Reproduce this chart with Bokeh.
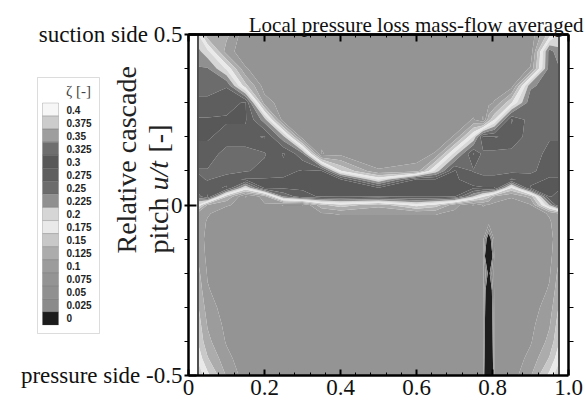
import numpy as np
from bokeh.plotting import figure
from bokeh.models import Range1d, FixedTicker, LinearAxis, Label, BoxAnnotation
from bokeh.embed import file_html
from bokeh.resources import INLINE

# ---------------- data ----------------
# measurement grid: relative position x, pitch u/t (rows listed top -> bottom)
grid_x = [0.025, 0.05, 0.1, 0.15, 0.2, 0.25, 0.3, 0.35, 0.4, 0.5, 0.6,
          0.65, 0.7, 0.75, 0.775, 0.79, 0.805, 0.85, 0.9, 0.95, 0.975]
grid_y = [0.5, 0.45, 0.4, 0.35, 0.3, 0.25, 0.2, 0.15, 0.1, 0.075, 0.05,
          0.025, 0.0, -0.025, -0.05, -0.1, -0.15, -0.2, -0.25, -0.3,
          -0.35, -0.4, -0.45, -0.5]
# local pressure loss zeta, one row per grid_y entry, one value per grid_x entry
zeta = [
    [0.19, 0.12, 0.12, 0.07, 0.07, 0.07, 0.07, 0.07, 0.07, 0.07, 0.07, 0.07, 0.07, 0.07, 0.07, 0.07, 0.07, 0.07, 0.07, 0.15, 0.19],
    [0.22, 0.196, 0.10, 0.07, 0.07, 0.07, 0.07, 0.07, 0.07, 0.07, 0.07, 0.07, 0.07, 0.07, 0.07, 0.07, 0.07, 0.07, 0.07, 0.25, 0.22],
    [0.24, 0.24, 0.183, 0.09, 0.07, 0.07, 0.07, 0.07, 0.07, 0.07, 0.07, 0.07, 0.07, 0.07, 0.07, 0.07, 0.07, 0.07, 0.09, 0.25, 0.24],
    [0.25, 0.25, 0.26, 0.146, 0.075, 0.07, 0.07, 0.07, 0.07, 0.07, 0.07, 0.07, 0.07, 0.07, 0.07, 0.07, 0.07, 0.075, 0.232, 0.25, 0.25],
    [0.27, 0.27, 0.28, 0.29, 0.10, 0.075, 0.07, 0.07, 0.07, 0.07, 0.07, 0.07, 0.07, 0.07, 0.07, 0.08, 0.09, 0.16, 0.255, 0.25, 0.25],
    [0.29, 0.29, 0.29, 0.29, 0.225, 0.07, 0.075, 0.07, 0.07, 0.07, 0.07, 0.07, 0.07, 0.09, 0.06, 0.126, 0.162, 0.29, 0.25, 0.25, 0.25],
    [0.29, 0.29, 0.28, 0.28, 0.29, 0.22, 0.07, 0.07, 0.07, 0.07, 0.07, 0.07, 0.09, 0.19, 0.29, 0.29, 0.29, 0.28, 0.25, 0.26, 0.26],
    [0.28, 0.28, 0.25, 0.25, 0.26, 0.29, 0.245, 0.06, 0.08, 0.07, 0.075, 0.09, 0.196, 0.29, 0.255, 0.255, 0.255, 0.255, 0.25, 0.27, 0.27],
    [0.26, 0.26, 0.25, 0.26, 0.27, 0.28, 0.29, 0.29, 0.165, 0.09, 0.098, 0.196, 0.29, 0.26, 0.255, 0.255, 0.255, 0.255, 0.255, 0.28, 0.28],
    [0.27, 0.26, 0.28, 0.29, 0.29, 0.29, 0.29, 0.29, 0.29, 0.185, 0.29, 0.29, 0.29, 0.28, 0.27, 0.27, 0.27, 0.29, 0.28, 0.29, 0.29],
    [0.28, 0.28, 0.29, 0.185, 0.29, 0.29, 0.29, 0.29, 0.29, 0.29, 0.29, 0.29, 0.29, 0.29, 0.29, 0.29, 0.29, 0.16, 0.29, 0.29, 0.29],
    [0.25, 0.29, 0.139, 0.06, 0.098, 0.24, 0.281, 0.29, 0.29, 0.29, 0.29, 0.29, 0.29, 0.211, 0.165, 0.146, 0.11, 0.09, 0.121, 0.29, 0.28],
    [0.187, 0.11, 0.09, 0.08, 0.085, 0.06, 0.06, 0.13, 0.153, 0.121, 0.175, 0.153, 0.098, 0.06, 0.09, 0.085, 0.08, 0.075, 0.085, 0.215, 0.29],
    [0.10, 0.09, 0.075, 0.075, 0.075, 0.08, 0.08, 0.085, 0.09, 0.09, 0.09, 0.09, 0.08, 0.08, 0.075, 0.075, 0.075, 0.07, 0.075, 0.09, 0.11],
    [0.10, 0.085, 0.07, 0.07, 0.07, 0.075, 0.075, 0.075, 0.075, 0.075, 0.075, 0.075, 0.07, 0.075, 0.07, 0.075, 0.07, 0.07, 0.07, 0.085, 0.10],
    [0.10, 0.08, 0.07, 0.07, 0.07, 0.07, 0.07, 0.07, 0.07, 0.07, 0.07, 0.07, 0.07, 0.07, 0.07, -0.02, 0.07, 0.07, 0.07, 0.08, 0.10],
    [0.11, 0.08, 0.07, 0.07, 0.07, 0.07, 0.07, 0.07, 0.07, 0.07, 0.07, 0.07, 0.07, 0.07, 0.07, -0.10, 0.07, 0.07, 0.07, 0.08, 0.11],
    [0.12, 0.085, 0.07, 0.07, 0.07, 0.07, 0.07, 0.07, 0.07, 0.07, 0.07, 0.07, 0.07, 0.07, 0.07, 0.0, 0.07, 0.07, 0.07, 0.085, 0.12],
    [0.13, 0.09, 0.072, 0.07, 0.07, 0.07, 0.07, 0.07, 0.07, 0.07, 0.07, 0.07, 0.07, 0.07, 0.07, -0.06, 0.07, 0.07, 0.072, 0.09, 0.13],
    [0.14, 0.10, 0.075, 0.07, 0.07, 0.07, 0.07, 0.07, 0.07, 0.07, 0.07, 0.07, 0.07, 0.07, 0.07, -0.08, 0.07, 0.07, 0.075, 0.10, 0.14],
    [0.15, 0.11, 0.08, 0.07, 0.07, 0.07, 0.07, 0.07, 0.07, 0.07, 0.07, 0.07, 0.07, 0.07, 0.07, -0.10, 0.07, 0.07, 0.08, 0.11, 0.15],
    [0.16, 0.12, 0.085, 0.07, 0.07, 0.07, 0.07, 0.07, 0.07, 0.07, 0.07, 0.07, 0.07, 0.07, 0.07, -0.12, 0.07, 0.07, 0.085, 0.12, 0.16],
    [0.18, 0.14, 0.095, 0.072, 0.07, 0.07, 0.07, 0.07, 0.07, 0.07, 0.07, 0.07, 0.07, 0.07, 0.07, -0.15, 0.07, 0.072, 0.095, 0.14, 0.18],
    [0.21, 0.17, 0.11, 0.075, 0.07, 0.07, 0.07, 0.07, 0.07, 0.07, 0.07, 0.07, 0.07, 0.07, 0.07, -0.20, 0.07, 0.075, 0.11, 0.17, 0.21],
]

legend_levels = [0.0, 0.025, 0.05, 0.075, 0.1, 0.125, 0.15, 0.175, 0.2,
                 0.225, 0.25, 0.275, 0.3, 0.325, 0.35, 0.375, 0.4]
legend_labels = ["0", "0.025", "0.05", "0.075", "0.1", "0.125", "0.15", "0.175", "0.2",
                 "0.225", "0.25", "0.275", "0.3", "0.325", "0.35", "0.375", "0.4"]
band_colors = ["#1c1c1c", "#8b8b8b", "#909090", "#949494", "#9c9c9c", "#acacac",
               "#c8c8c8", "#e9e9e9", "#d6d6d6", "#909090", "#6c6c6c", "#5e5e5e",
               "#585858", "#6e6e6e", "#9e9e9e", "#cccccc", "#f6f6f6"]

x_ticks = [0.0, 0.2, 0.4, 0.6, 0.8, 1.0]
x_tick_labels = ["0", "0.2", "0.4", "0.6", "0.8", "1.0"]
x_minor = [0.04, 0.08, 0.12, 0.16, 0.24, 0.28, 0.32, 0.36, 0.44, 0.48, 0.52, 0.56,
           0.64, 0.68, 0.72, 0.76, 0.84, 0.88, 0.92, 0.96]
y_ticks = [-0.5, 0.0, 0.5]
y_tick_labels = ["pressure side -0.5", "0", "suction side 0.5"]
y_minor = [-0.4, -0.3, -0.2, -0.1, 0.1, 0.2, 0.3, 0.4]

title_text = "Local pressure loss mass-flow averaged"

# ---------------- layout (canvas pixels -> data units) ----------------
W, H = 586, 401
X0PX, X1PX = 188, 568      # where u = 0 and u = 1 sit on the canvas
YTPX, YBPX = 34, 375       # where pitch = 0.5 and -0.5 sit
SERIF = "Liberation Serif"


def dx(cx):
    return (cx - X0PX) / (X1PX - X0PX)


def dy(cy):
    return 0.5 - (cy - YTPX) / (YBPX - YTPX)


p = figure(width=W, height=H, x_range=Range1d(dx(0), dx(W)), y_range=Range1d(dy(H), dy(0)),
           output_backend="svg", toolbar_location=None,
           x_axis_location=None, y_axis_location=None)
p.min_border_left = p.min_border_right = p.min_border_top = p.min_border_bottom = 0
p.grid.visible = False
p.outline_line_color = None
p.background_fill_color = "white"
p.border_fill_color = "white"

# filled contours
bounds = [-1.0] + [lv + 0.0125 for lv in legend_levels[:-1]] + [1.0]
p.contour(x=np.array(grid_x), y=np.array(grid_y[::-1]), z=np.array(zeta[::-1]),
          levels=bounds, fill_color=band_colors, line_color=None)

# measurement-domain edges
for xe in (grid_x[0], grid_x[-1]):
    p.line(x=[xe, xe], y=[grid_y[-1], grid_y[0]], line_color="#505050", line_width=2)


def make_axis(major, minor, loc, bnds):
    ax = LinearAxis(ticker=FixedTicker(ticks=major, minor_ticks=minor),
                    fixed_location=loc, bounds=bnds)
    ax.axis_line_color = "black"
    ax.axis_line_width = 2.5
    ax.major_tick_line_color = "black"
    ax.major_tick_line_width = 2
    ax.minor_tick_line_color = "black"
    ax.minor_tick_line_width = 1
    return ax


# left axis with the side labels
yl = make_axis(y_ticks, y_minor, 0.0, (-0.5, 0.5))
yl.major_label_overrides = dict(zip(y_ticks, y_tick_labels))
yl.major_label_text_font = SERIF
yl.major_label_text_font_size = "23px"
yl.major_label_text_color = "#111111"
yl.major_label_standoff = 2
yl.major_tick_in, yl.major_tick_out = 8, 4
yl.minor_tick_in, yl.minor_tick_out = 0, 4
p.add_layout(yl, "left")

# right axis: ticks only
yr = make_axis([], y_minor, 1.0, (-0.5, 0.5))
yr.minor_tick_in, yr.minor_tick_out = 0, 5
p.add_layout(yr, "right")

# bottom axis with labels
xb = make_axis(x_ticks, x_minor, -0.5, (0.0, 1.0))
xb.major_label_overrides = dict(zip(x_ticks, x_tick_labels))
xb.major_label_text_font = SERIF
xb.major_label_text_font_size = "23px"
xb.major_label_text_color = "#111111"
xb.major_label_standoff = 4
xb.major_tick_in, xb.major_tick_out = 6, 0
xb.minor_tick_in, xb.minor_tick_out = 3, 0
p.add_layout(xb, "below")

# top axis: ticks only (long at the label positions, short in between)
xt1 = make_axis([], x_ticks, 0.5, (0.0, 1.0))
xt1.minor_tick_line_width = 2
xt1.minor_tick_in, xt1.minor_tick_out = 7, 0
p.add_layout(xt1, "above")
xt2 = make_axis([], x_minor, 0.5, (0.0, 1.0))
xt2.minor_tick_in, xt2.minor_tick_out = 3, 0
p.add_layout(xt2, "above")

# title
p.add_layout(Label(x=dx(583), y=dy(24), text=title_text, text_font=SERIF,
                   text_font_size="21px", text_color="#111111", text_align="right",
                   text_baseline="alphabetic"))

# y axis label (two lines, rotated)
lab_kw = dict(text_font=SERIF, text_font_size="28px", text_color="#222222",
              angle=np.pi / 2, text_align="left", text_baseline="middle")
p.add_layout(Label(x=dx(126), y=dy(253), text="Relative cascade", **lab_kw))
p.add_layout(Label(x=dx(158), y=dy(253), text="pitch", **lab_kw))
p.add_layout(Label(x=dx(158), y=dy(190), text="u/t", text_font_style="italic", **lab_kw))
p.add_layout(Label(x=dx(158), y=dy(152), text="[-]", **lab_kw))

# colour legend
p.add_layout(BoxAnnotation(left=dx(37), right=dx(99), top=dy(77), bottom=dy(333),
                           fill_color="white", fill_alpha=1.0,
                           line_color="#8a8a8a", line_width=1))
p.add_layout(Label(x=dx(78), y=dy(90), text="ζ [-]", text_font=SERIF,
                   text_font_size="15px", text_color="#444444",
                   text_align="center", text_baseline="middle"))
n = len(legend_levels)
for i in range(n):
    k = n - 1 - i
    cy = 109 + 13.06 * i
    p.add_layout(BoxAnnotation(left=dx(42), right=dx(58), top=dy(cy - 6.5), bottom=dy(cy + 6.5),
                               fill_color=band_colors[k], fill_alpha=1.0,
                               line_color="#555555", line_width=0.8))
    p.add_layout(Label(x=dx(66), y=dy(cy), text=legend_labels[k],
                       text_font="Liberation Sans", text_font_style="bold",
                       text_font_size="10px", text_color="#222222",
                       text_align="left", text_baseline="middle"))

open("out.html", "w").write(file_html(p, INLINE))
